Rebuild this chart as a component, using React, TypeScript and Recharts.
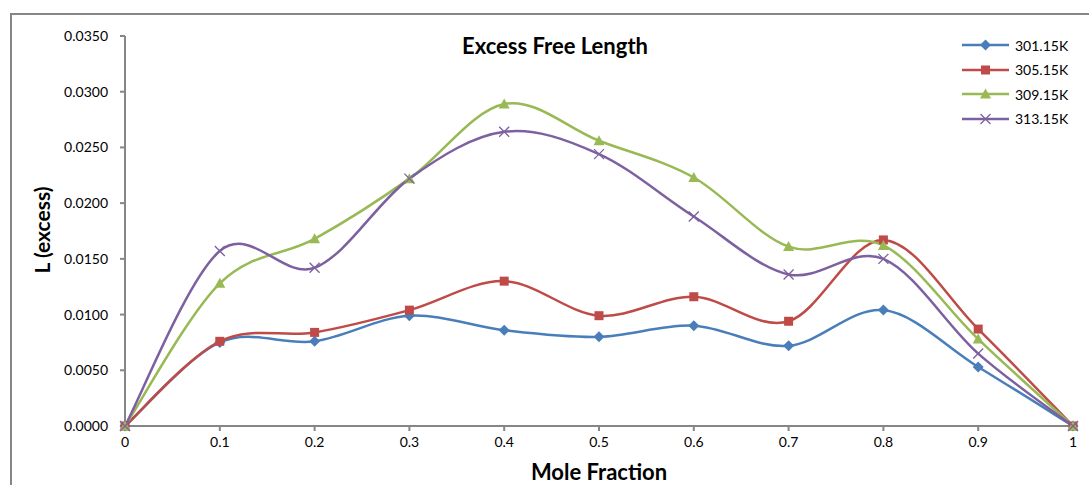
import { Legend, Line, LineChart, XAxis, YAxis } from 'recharts';

const moleFraction = [0, 0.1, 0.2, 0.3, 0.4, 0.5, 0.6, 0.7, 0.8, 0.9, 1];
const t301 = [0, 0.0075, 0.0076, 0.0099, 0.0086, 0.008, 0.009, 0.0072, 0.0104, 0.0053, 0];
const t305 = [0, 0.0076, 0.0084, 0.0104, 0.013, 0.0099, 0.0116, 0.0094, 0.0167, 0.0087, 0];
const t309 = [0, 0.0128, 0.0168, 0.0222, 0.0289, 0.0256, 0.0223, 0.0161, 0.0162, 0.0078, 0];
const t313 = [0, 0.0157, 0.0142, 0.0222, 0.0264, 0.0244, 0.0188, 0.0136, 0.015, 0.0065, 0];
const yTicks = [0, 0.005, 0.01, 0.015, 0.02, 0.025, 0.03, 0.035];

const FONT = 'Lato, "Open Sans", sans-serif';
const AXIS = '#868686';
const TEXT = '#000';

const SERIES = [
  { key: 't301', name: '301.15K', color: '#4A7EBB', marker: 'diamond' },
  { key: 't305', name: '305.15K', color: '#BE4B48', marker: 'square' },
  { key: 't309', name: '309.15K', color: '#98B954', marker: 'triangle' },
  { key: 't313', name: '313.15K', color: '#7D60A0', marker: 'cross' },
];

const data = moleFraction.map((x, i) => ({
  x,
  t301: t301[i],
  t305: t305[i],
  t309: t309[i],
  t313: t313[i],
}));

// excel-style smoothed line (catmull-rom through the points)
function excelSmooth(context: any) {
  let pts: number[][] = [];
  return {
    areaStart() {},
    areaEnd() {},
    lineStart() {
      pts = [];
    },
    point(x: number, y: number) {
      pts.push([+x, +y]);
    },
    lineEnd() {
      if (!pts.length) return;
      context.moveTo(pts[0][0], pts[0][1]);
      for (let i = 0; i < pts.length - 1; i++) {
        const p0 = pts[i - 1] || pts[i];
        const p1 = pts[i];
        const p2 = pts[i + 1];
        const p3 = pts[i + 2] || pts[i + 1];
        context.bezierCurveTo(
          p1[0] + (p2[0] - p0[0]) / 6,
          p1[1] + (p2[1] - p0[1]) / 6,
          p2[0] - (p3[0] - p1[0]) / 6,
          p2[1] - (p3[1] - p1[1]) / 6,
          p2[0],
          p2[1],
        );
      }
    },
  };
}

function Marker({ type, cx, cy, color }: { type: string; cx: number; cy: number; color: string }) {
  if (type === 'diamond') {
    return <path d={`M${cx},${cy - 5.5}L${cx + 5.5},${cy}L${cx},${cy + 5.5}L${cx - 5.5},${cy}Z`} fill={color} />;
  }
  if (type === 'square') {
    return <rect x={cx - 4.5} y={cy - 4.5} width={9} height={9} fill={color} />;
  }
  if (type === 'triangle') {
    return <path d={`M${cx},${cy - 5.5}L${cx + 5.5},${cy + 4.5}L${cx - 5.5},${cy + 4.5}Z`} fill={color} />;
  }
  return (
    <path
      d={`M${cx - 5},${cy - 5}L${cx + 5},${cy + 5}M${cx + 5},${cy - 5}L${cx - 5},${cy + 5}`}
      stroke={color}
      strokeWidth={1.3}
      fill="none"
    />
  );
}

function LegendBox() {
  return (
    <div style={{ fontFamily: FONT, fontSize: 14, color: TEXT }}>
      {SERIES.map((s) => (
        <div key={s.key} style={{ display: 'flex', alignItems: 'center', height: 24.5 }}>
          <svg width={50} height={14} style={{ display: 'block' }}>
            <line x1={0} y1={7} x2={47} y2={7} stroke={s.color} strokeWidth={2.5} />
            <Marker type={s.marker} cx={23.5} cy={7} color={s.color} />
          </svg>
          <span style={{ marginLeft: 3 }}>{s.name}</span>
        </div>
      ))}
    </div>
  );
}

export default function App() {
  return (
    <div style={{ position: 'absolute', left: 0, top: 0, width: 1089, height: 485, overflow: 'hidden', background: '#fff' }}>
      <div
        style={{
          position: 'absolute',
          left: 10,
          top: 13,
          width: 1200,
          height: 600,
          border: `2px solid ${AXIS}`,
        }}
      />
      <div
        style={{
          position: 'absolute',
          left: 400,
          width: 310,
          top: 32,
          textAlign: 'center',
          fontFamily: FONT,
          fontWeight: 700,
          fontSize: 22,
          color: TEXT,
        }}
      >
        Excess Free Length
      </div>
      <LineChart
        width={1089}
        height={485}
        data={data}
        margin={{ top: 36, right: 16, left: 0, bottom: 0 }}
        style={{ position: 'absolute', left: 0, top: 0 }}
      >
        <XAxis
          dataKey="x"
          type="number"
          domain={[0, 1]}
          ticks={moleFraction}
          tickFormatter={(v) => String(v)}
          height={59}
          stroke={AXIS}
          strokeWidth={2}
          tickSize={5}
          tickMargin={6}
          tick={{ fill: TEXT, fontSize: 14, fontFamily: FONT }}
          label={{
            value: 'Mole Fraction',
            position: 'insideBottom',
            offset: 5,
            fill: TEXT,
            fontSize: 22,
            fontWeight: 700,
            fontFamily: FONT,
          }}
        />
        <YAxis
          type="number"
          domain={[0, 0.035]}
          ticks={yTicks}
          tickFormatter={(v) => v.toFixed(4)}
          width={125}
          stroke={AXIS}
          strokeWidth={2}
          tickSize={5}
          tickMargin={12}
          tick={{ fill: TEXT, fontSize: 14, fontFamily: FONT }}
          label={{
            content: () => (
              <text
                x={50}
                y={230}
                transform="rotate(-90 50 230)"
                textAnchor="middle"
                fill={TEXT}
                fontSize={21}
                fontWeight={700}
                fontFamily={FONT}
              >
                L (excess)
              </text>
            ),
          }}
        />
        <Legend
          content={() => <LegendBox />}
          layout="vertical"
          verticalAlign="middle"
          align="center"
          wrapperStyle={{ top: 33, left: 962, right: 'auto', bottom: 'auto', width: 'auto' }}
        />
        {SERIES.map((s) => (
          <Line
            key={s.key}
            dataKey={s.key}
            name={s.name}
            type={excelSmooth as any}
            stroke={s.color}
            strokeWidth={2.5}
            isAnimationActive={false}
            dot={(p: any) => <Marker key={`${s.key}-${p.index}`} type={s.marker} cx={p.cx} cy={p.cy} color={s.color} />}
            activeDot={false}
          />
        ))}
      </LineChart>
    </div>
  );
}
